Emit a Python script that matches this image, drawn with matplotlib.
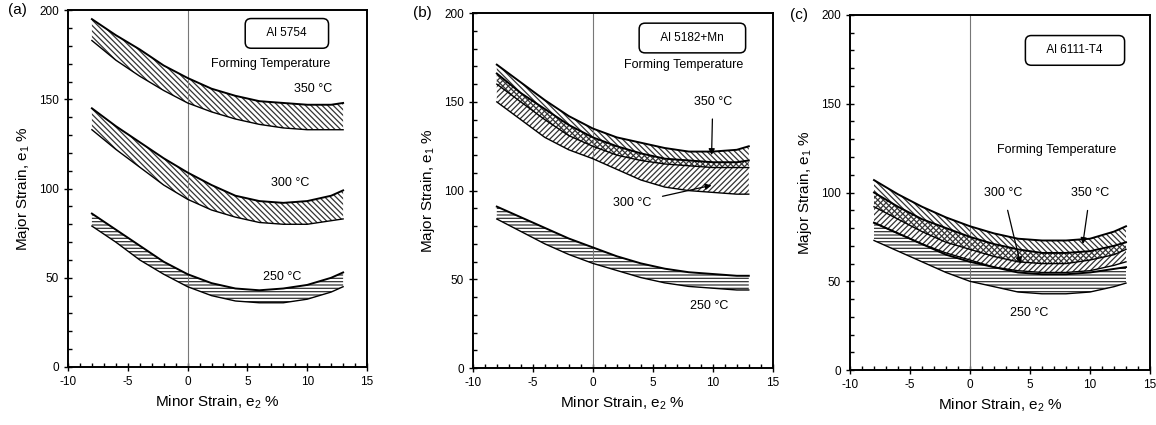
import matplotlib.pyplot as plt
from matplotlib.ticker import MultipleLocator

plt.rcParams['font.family'] = ['Liberation Sans', 'DejaVu Sans']
plt.rcParams['mathtext.default'] = 'regular'
plt.rcParams['axes.unicode_minus'] = False
plt.rcParams['hatch.linewidth'] = 0.9

# minor strain positions where the band edges were read
e2 = [-8, -6, -4, -2, 0, 2, 4, 6, 8, 10, 12, 13]

# (a) Al 5754
a350_hi = [195, 186, 178, 169, 162, 156, 152, 149, 148, 147, 147, 148]
a350_lo = [183, 172, 163, 155, 148, 143, 139, 136, 134, 133, 133, 133]
a300_hi = [145, 135, 126, 117, 109, 102, 96, 93, 92, 93, 96, 99]
a300_lo = [133, 122, 112, 102, 94, 88, 84, 81, 80, 80, 82, 83]
a250_hi = [86, 77, 68, 59, 52, 47, 44, 43, 44, 46, 50, 53]
a250_lo = [79, 70, 60, 52, 45, 40, 37, 36, 36, 38, 42, 45]

# (b) Al 5182+Mn
b350_hi = [171, 161, 151, 142, 135, 130, 127, 124, 122, 122, 123, 125]
b350_lo = [160, 150, 140, 131, 125, 120, 117, 115, 114, 113, 113, 113]
b300_hi = [166, 155, 146, 137, 130, 125, 121, 118, 117, 116, 116, 117]
b300_lo = [150, 140, 130, 123, 118, 112, 106, 102, 100, 99, 98, 98]
b250_hi = [91, 85, 79, 73, 68, 63, 59, 56, 54, 53, 52, 52]
b250_lo = [84, 77, 70, 64, 59, 55, 51, 48, 46, 45, 44, 44]

# (c) Al 6111-T4
c350_hi = [107, 99, 92, 86, 81, 77, 74, 73, 73, 74, 78, 81]
c350_lo = [92, 85, 78, 72, 68, 64, 61, 60, 60, 62, 65, 68]
c300_hi = [100, 92, 85, 80, 75, 71, 68, 66, 66, 67, 70, 72]
c300_lo = [83, 77, 71, 66, 62, 58, 56, 55, 55, 56, 59, 61]
c250_hi = [83, 77, 71, 65, 61, 58, 55, 54, 54, 55, 57, 58]
c250_lo = [73, 67, 61, 55, 50, 47, 44, 43, 43, 44, 47, 49]


def band(ax, hi, lo, hatch):
    ax.fill_between(e2, lo, hi, facecolor='none', edgecolor='#333333',
                    hatch=hatch, linewidth=0)
    ax.plot(e2, hi, color='black', lw=1.4)
    ax.plot(e2, lo, color='black', lw=1.0)


def setup(ax, tag, alloy, box_xy):
    ax.set_xlim(-10, 15)
    ax.set_ylim(0, 200)
    ax.xaxis.set_major_locator(MultipleLocator(5))
    ax.xaxis.set_minor_locator(MultipleLocator(1))
    ax.yaxis.set_major_locator(MultipleLocator(50))
    ax.yaxis.set_minor_locator(MultipleLocator(10))
    ax.tick_params(which='major', direction='inout', length=6, width=1, labelsize=8.5)
    ax.tick_params(which='minor', direction='in', length=3, width=1)
    for s in ax.spines.values():
        s.set_linewidth(1.4)
    ax.axvline(0, color='#777777', lw=0.8)
    ax.set_xlabel('Minor Strain, e$_2$ %', fontsize=11, labelpad=4)
    ax.set_ylabel('Major Strain, e$_1$ %', fontsize=11, labelpad=5)
    ax.text(-0.2, 1.0, tag, transform=ax.transAxes, fontsize=11, va='center')
    ax.text(box_xy[0], box_xy[1], '    ' + alloy + '    ', fontsize=8.5, ha='center', va='center',
            bbox=dict(boxstyle='round,pad=0.75,rounding_size=0.5', fc='white', ec='black', lw=1.1),
            zorder=5)


fig = plt.figure(figsize=(11.56, 4.25), dpi=100)
ax1 = fig.add_axes([0.0588, 0.1365, 0.2587, 0.8395])
ax2 = fig.add_axes([0.409, 0.134, 0.2595, 0.835])
ax3 = fig.add_axes([0.7353, 0.129, 0.2595, 0.836])

# panel a
setup(ax1, '(a)', 'Al 5754', (8.3, 187))
band(ax1, a350_hi, a350_lo, '\\\\\\\\\\\\')
band(ax1, a300_hi, a300_lo, '\\\\\\\\\\\\')
band(ax1, a250_hi, a250_lo, '-----')
ax1.text(6.9, 170, 'Forming Temperature', fontsize=9, ha='center', va='center')
ax1.text(10.5, 156, '350 °C', fontsize=9, ha='center', va='center')
ax1.text(8.6, 103, '300 °C', fontsize=9, ha='center', va='center')
ax1.text(7.9, 50.5, '250 °C', fontsize=9, ha='center', va='center')

# panel b
setup(ax2, '(b)', 'Al 5182+Mn', (8.3, 186))
band(ax2, b350_hi, b350_lo, '\\\\\\\\\\\\')
band(ax2, b300_hi, b300_lo, '//////')
band(ax2, b250_hi, b250_lo, '-----')
ax2.text(7.6, 171, 'Forming Temperature', fontsize=9, ha='center', va='center')
ax2.annotate('350 °C', xy=(9.9, 120), xytext=(10, 150), fontsize=9, ha='center', va='center',
             arrowprops=dict(arrowstyle='-|>', color='black', lw=0.9, shrinkA=6, shrinkB=0))
ax2.annotate('300 °C', xy=(9.9, 103), xytext=(3.3, 93), fontsize=9, ha='center', va='center',
             arrowprops=dict(arrowstyle='-|>', color='black', lw=0.9, shrinkA=6, shrinkB=0))
ax2.text(9.7, 35, '250 °C', fontsize=9, ha='center', va='center')

# panel c
setup(ax3, '(c)', 'Al 6111-T4', (8.75, 180))
band(ax3, c250_hi, c250_lo, '-----')
band(ax3, c300_hi, c300_lo, '//////')
band(ax3, c350_hi, c350_lo, '\\\\\\\\\\\\')
ax3.text(7.2, 124, 'Forming Temperature', fontsize=9, ha='center', va='center')
ax3.annotate('300 °C', xy=(4.2, 60), xytext=(2.8, 99.5), fontsize=9, ha='center', va='center',
             arrowprops=dict(arrowstyle='-|>', color='black', lw=0.9, shrinkA=6, shrinkB=0))
ax3.annotate('350 °C', xy=(9.4, 71), xytext=(10, 99.5), fontsize=9, ha='center', va='center',
             arrowprops=dict(arrowstyle='-|>', color='black', lw=0.9, shrinkA=6, shrinkB=0))
ax3.text(4.9, 32, '250 °C', fontsize=9, ha='center', va='center')

fig.savefig('out.png', dpi=100)
